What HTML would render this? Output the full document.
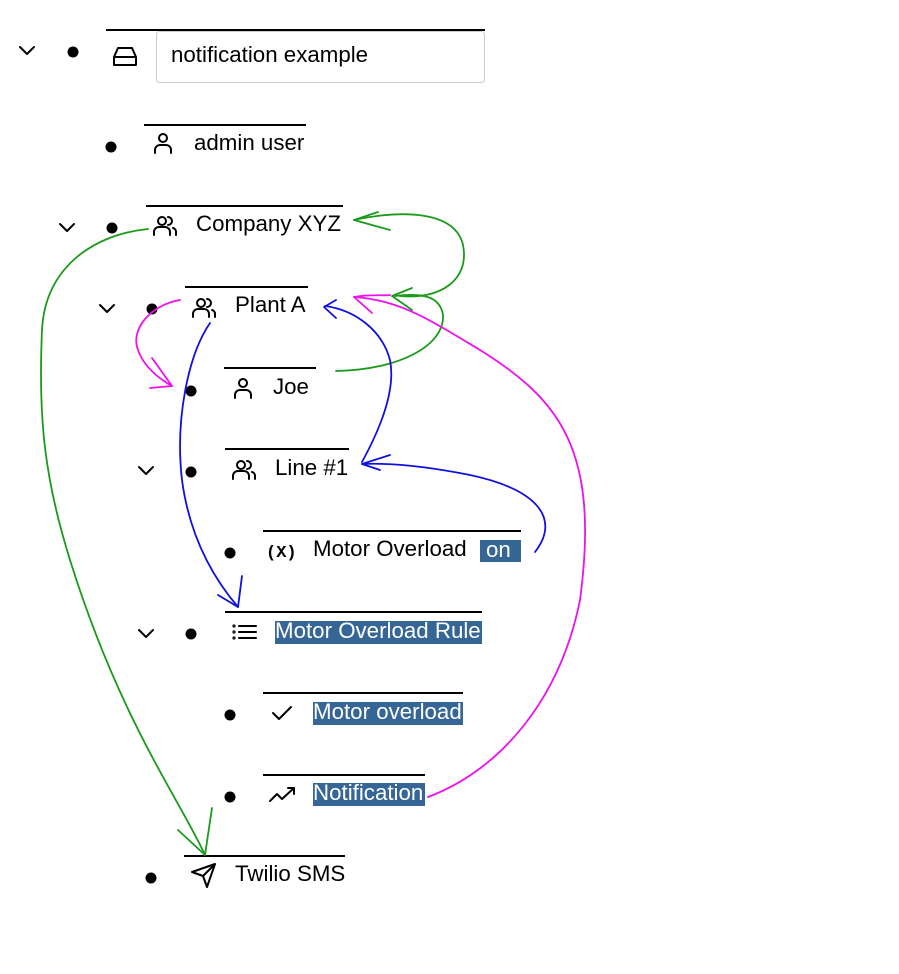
<!DOCTYPE html>
<html><head><meta charset="utf-8"><style>
html,body{margin:0;padding:0;background:#fff;}
svg{display:block;}
text{font-family:"Liberation Sans",sans-serif;font-size:22.3px;fill:#000;}
</style></head><body>
<svg width="899" height="974" viewBox="0 0 899 974" xmlns="http://www.w3.org/2000/svg">
<g stroke="#000" stroke-width="2" fill="none">
<line x1="106" y1="30" x2="485" y2="30"/>
<line x1="144" y1="125" x2="306" y2="125"/>
<line x1="146" y1="206" x2="343" y2="206"/>
<line x1="185" y1="287" x2="308" y2="287"/>
<line x1="224" y1="368" x2="316" y2="368"/>
<line x1="225" y1="449" x2="349" y2="449"/>
<line x1="263" y1="531" x2="521" y2="531"/>
<line x1="225" y1="612" x2="482" y2="612"/>
<line x1="263" y1="693" x2="463" y2="693"/>
<line x1="263" y1="775" x2="425" y2="775"/>
<line x1="184" y1="856" x2="345" y2="856"/>
</g>
<rect x="156.5" y="31.5" width="328" height="51" rx="3" fill="#fff" stroke="#ccc"/>
<g fill="#000">
<circle cx="73" cy="52" r="5.5"/><circle cx="111" cy="147" r="5.5"/><circle cx="112" cy="228" r="5.5"/>
<circle cx="152" cy="309" r="5.5"/><circle cx="191" cy="391" r="5.5"/><circle cx="191" cy="472" r="5.5"/>
<circle cx="230" cy="553" r="5.5"/><circle cx="191" cy="634" r="5.5"/><circle cx="230" cy="715" r="5.5"/>
<circle cx="230" cy="797" r="5.5"/><circle cx="151" cy="878" r="5.5"/>
</g>
<g stroke="#000" stroke-width="2" fill="none" stroke-linecap="round" stroke-linejoin="round">
<polyline points="20,47 27,54 34,47"/>
<polyline points="60,224 67,231 74,224"/>
<polyline points="100,305 107,312 114,305"/>
<polyline points="139,467 146,474 153,467"/>
<polyline points="139,630 146,637 153,630"/>
<path d="M114,57 L118,48 H132 L136,57 V65 H114 Z M114,57 H136"/>
<circle cx="163" cy="138" r="4"/><path d="M155,153 V150 a5,5 0 0 1 5,-5 h6 a5,5 0 0 1 5,5 v3"/>
<circle cx="243" cy="383" r="4"/><path d="M235,398 V395 a5,5 0 0 1 5,-5 h6 a5,5 0 0 1 5,5 v3"/>
<g transform="translate(165,225)"><circle cx="-3" cy="-4" r="4"/><path d="M-11,10 V7 a5,5 0 0 1 5,-5 h6 a5,5 0 0 1 5,5 v3 M3,-8 a4,4 0 0 1 0,8 M8,3 a4,4 0 0 1 3,4 v3"/></g>
<g transform="translate(204,307)"><circle cx="-3" cy="-4" r="4"/><path d="M-11,10 V7 a5,5 0 0 1 5,-5 h6 a5,5 0 0 1 5,5 v3 M3,-8 a4,4 0 0 1 0,8 M8,3 a4,4 0 0 1 3,4 v3"/></g>
<g transform="translate(244,469)"><circle cx="-3" cy="-4" r="4"/><path d="M-11,10 V7 a5,5 0 0 1 5,-5 h6 a5,5 0 0 1 5,5 v3 M3,-8 a4,4 0 0 1 0,8 M8,3 a4,4 0 0 1 3,4 v3"/></g>
<path d="M239,626 H256 M239,632 H256 M239,638 H256"/>
<circle cx="234" cy="626" r="0.6"/><circle cx="234" cy="632" r="0.6"/><circle cx="234" cy="638" r="0.6"/>
<polyline points="273,713 279,719 291,707"/>
<polyline points="270,801 277,794 282,799 294,788"/><polyline points="288,788 294,788 294,794"/>
<path d="M192,872 L215,864 L207,887 L203,876 Z M203,876 L215,864"/>
</g>
<g fill="#366696">
<rect x="480" y="540" width="41" height="22"/>
<rect x="275" y="621" width="207" height="23"/>
<rect x="313" y="702" width="150" height="23"/>
<rect x="313" y="783" width="112" height="23"/>
</g>
<text x="171" y="62">notification example</text>
<text x="194" y="150">admin user</text>
<text x="196" y="231">Company XYZ</text>
<text x="235" y="312">Plant A</text>
<text x="273" y="394">Joe</text>
<text x="275" y="475">Line #1</text>
<text x="266" y="557" style="font-family:'Liberation Mono',monospace;font-weight:bold;font-size:17px">(X)</text>
<text x="313" y="556">Motor Overload</text>
<text x="486" y="557" style="fill:#fff">on</text>
<text x="275" y="638" style="fill:#fff">Motor Overload Rule</text>
<text x="313" y="719" style="fill:#fff">Motor overload</text>
<text x="313" y="800" style="fill:#fff">Notification</text>
<text x="235" y="881">Twilio SMS</text>
<g fill="none" stroke-width="1.8" stroke-linecap="round" stroke-linejoin="round">
<g stroke="#1a9a1a">
<path d="M148,229 C90,235 45,270 42,330 C38,420 45,480 70,560 C120,720 180,800 205,855"/>
<path d="M178,830 L205,855 L212,808"/>
<path d="M336,371 C400,370 445,345 443,315 C440,295 420,293 395,296"/>
<path d="M412,288 L392,296 L412,310"/>
<path d="M400,296 C440,300 470,280 463,245 C455,210 400,210 354,220"/>
<path d="M378,212 L354,220 L390,230"/>
</g>
<g stroke="#1010e0">
<path d="M210,323 C188,355 175,420 182,480 C190,540 215,580 238,607"/>
<path d="M218,595 L238,607 L242,576"/>
<path d="M535,552 C560,520 540,490 470,475 C420,465 385,463 362,464"/>
<path d="M390,455 L362,464 L380,470"/>
<path d="M362,462 C385,420 395,385 390,360 C382,330 355,310 325,306"/>
<path d="M336,300 L324,307 L336,318"/>
</g>
<g stroke="#ee10ee">
<path d="M180,300 C150,305 130,330 138,350 C145,370 165,382 172,386"/>
<path d="M152,358 L172,386 L150,388"/>
<path d="M428,797 C500,770 560,700 580,600 C600,450 560,400 480,350 C430,320 400,300 354,297 C370,294 385,296 390,295"/>
<path d="M354,297 L372,313"/>
</g>
</g>
</svg>
</body></html>
